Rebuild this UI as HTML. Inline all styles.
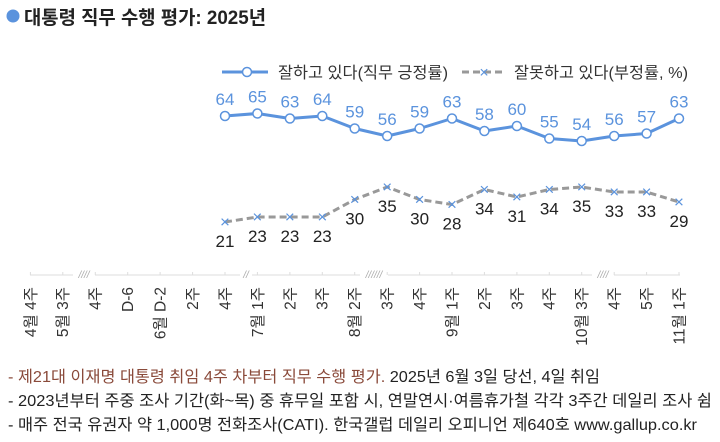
<!DOCTYPE html>
<html><head><meta charset="utf-8"><style>
html,body{margin:0;padding:0;background:#fff;}
svg{display:block;font-family:"Liberation Sans","Noto Sans CJK KR",sans-serif;}
</style></head><body>
<svg width="720" height="442" viewBox="0 0 720 442" xmlns="http://www.w3.org/2000/svg">
<circle cx="13" cy="16" r="6.5" fill="#5b93dd"/>
<text x="24" y="24" font-size="19" font-weight="bold" fill="#222" textLength="242" lengthAdjust="spacingAndGlyphs">대통령 직무 수행 평가: 2025년</text>

<!-- legend -->
<line x1="222" y1="72" x2="268" y2="72" stroke="#5b93dd" stroke-width="3"/>
<circle cx="247" cy="72" r="4.5" fill="#fff" stroke="#5b93dd" stroke-width="1.5"/>
<text x="278" y="78" font-size="16" fill="#333" textLength="170" lengthAdjust="spacingAndGlyphs">잘하고 있다(직무 긍정률)</text>
<line x1="462" y1="72" x2="505" y2="72" stroke="#999" stroke-width="3" stroke-dasharray="7,4"/>
<text x="484" y="77.5" font-size="16" fill="#5b93dd" text-anchor="middle">×</text>
<text x="514" y="78" font-size="16" fill="#333" textLength="174" lengthAdjust="spacingAndGlyphs">잘못하고 있다(부정률, %)</text>

<!-- positive -->
<polyline fill="none" stroke="#5b93dd" stroke-width="3" stroke-linejoin="round" points="225,116 257.4,113.5 289.9,118.5 322.3,116 354.7,128.5 387.2,136 419.6,128.5 452,118.5 484.4,131 516.9,126 549.3,138.5 581.7,141 614.2,136 646.6,133.5 679,118.5"/>
<g fill="#fff" stroke="#5b93dd" stroke-width="1.5">
<circle cx="225" cy="116" r="4.5"/><circle cx="257.4" cy="113.5" r="4.5"/><circle cx="289.9" cy="118.5" r="4.5"/><circle cx="322.3" cy="116" r="4.5"/><circle cx="354.7" cy="128.5" r="4.5"/><circle cx="387.2" cy="136" r="4.5"/><circle cx="419.6" cy="128.5" r="4.5"/><circle cx="452" cy="118.5" r="4.5"/><circle cx="484.4" cy="131" r="4.5"/><circle cx="516.9" cy="126" r="4.5"/><circle cx="549.3" cy="138.5" r="4.5"/><circle cx="581.7" cy="141" r="4.5"/><circle cx="614.2" cy="136" r="4.5"/><circle cx="646.6" cy="133.5" r="4.5"/><circle cx="679" cy="118.5" r="4.5"/>
</g>
<g font-size="17" fill="#5b93dd" text-anchor="middle">
<text x="225" y="105">64</text><text x="257.4" y="102.5">65</text><text x="289.9" y="107.5">63</text><text x="322.3" y="105">64</text><text x="354.7" y="117.5">59</text><text x="387.2" y="125">56</text><text x="419.6" y="117.5">59</text><text x="452" y="107.5">63</text><text x="484.4" y="120">58</text><text x="516.9" y="115">60</text><text x="549.3" y="127.5">55</text><text x="581.7" y="130">54</text><text x="614.2" y="125">56</text><text x="646.6" y="122.5">57</text><text x="679" y="107.5">63</text>
</g>

<!-- negative -->
<polyline fill="none" stroke="#999" stroke-width="3" stroke-dasharray="7,4" points="225,222 257.4,217 289.9,217 322.3,217 354.7,199.5 387.2,187 419.6,199.5 452,204.5 484.4,189.5 516.9,197 549.3,189.5 581.7,187 614.2,192 646.6,192 679,202"/>
<g font-size="17" fill="#5b93dd" text-anchor="middle">
<text x="225" y="227.5">×</text><text x="257.4" y="222.5">×</text><text x="289.9" y="222.5">×</text><text x="322.3" y="222.5">×</text><text x="354.7" y="205">×</text><text x="387.2" y="192.5">×</text><text x="419.6" y="205">×</text><text x="452" y="210">×</text><text x="484.4" y="195">×</text><text x="516.9" y="202.5">×</text><text x="549.3" y="195">×</text><text x="581.7" y="192.5">×</text><text x="614.2" y="197.5">×</text><text x="646.6" y="197.5">×</text><text x="679" y="207.5">×</text>
</g>
<g font-size="17" fill="#222" text-anchor="middle">
<text x="225" y="247">21</text><text x="257.4" y="242">23</text><text x="289.9" y="242">23</text><text x="322.3" y="242">23</text><text x="354.7" y="224.5">30</text><text x="387.2" y="212">35</text><text x="419.6" y="224.5">30</text><text x="452" y="229.5">28</text><text x="484.4" y="214.5">34</text><text x="516.9" y="222">31</text><text x="549.3" y="214.5">34</text><text x="581.7" y="212">35</text><text x="614.2" y="217">33</text><text x="646.6" y="217">33</text><text x="679" y="227">29</text>
</g>

<!-- axis -->
<g stroke="#ddd" stroke-width="1">
<line x1="30" y1="275" x2="73" y2="275"/><line x1="95" y1="275" x2="240" y2="275"/><line x1="252" y1="275" x2="360" y2="275"/><line x1="388" y1="275" x2="592" y2="275"/><line x1="614" y1="275" x2="680" y2="275"/>
<line x1="30.4" y1="272" x2="30.4" y2="275"/><line x1="62.8" y1="272" x2="62.8" y2="275"/><line x1="95.3" y1="272" x2="95.3" y2="275"/><line x1="127.7" y1="272" x2="127.7" y2="275"/><line x1="160.1" y1="272" x2="160.1" y2="275"/><line x1="192.6" y1="272" x2="192.6" y2="275"/><line x1="225" y1="272" x2="225" y2="275"/><line x1="257.4" y1="272" x2="257.4" y2="275"/><line x1="289.9" y1="272" x2="289.9" y2="275"/><line x1="322.3" y1="272" x2="322.3" y2="275"/><line x1="354.7" y1="272" x2="354.7" y2="275"/><line x1="387.2" y1="272" x2="387.2" y2="275"/><line x1="419.6" y1="272" x2="419.6" y2="275"/><line x1="452" y1="272" x2="452" y2="275"/><line x1="484.4" y1="272" x2="484.4" y2="275"/><line x1="516.9" y1="272" x2="516.9" y2="275"/><line x1="549.3" y1="272" x2="549.3" y2="275"/><line x1="581.7" y1="272" x2="581.7" y2="275"/><line x1="614.2" y1="272" x2="614.2" y2="275"/><line x1="646.6" y1="272" x2="646.6" y2="275"/><line x1="679" y1="272" x2="679" y2="275"/>
</g>
<g font-size="10" fill="#aaa" font-style="italic" text-anchor="middle">
<text x="84" y="278">////</text><text x="246" y="278">//</text><text x="374" y="278">//////</text><text x="603" y="278">////</text>
</g>
<g font-size="15.5" fill="#333" text-anchor="end">
<text transform="translate(30.4,287) rotate(-90)" dy="0.35em">4월 4주</text>
<text transform="translate(62.8,287) rotate(-90)" dy="0.35em">5월 3주</text>
<text transform="translate(95.3,287) rotate(-90)" dy="0.35em">4주</text>
<text transform="translate(127.7,287) rotate(-90)" dy="0.35em">D-6</text>
<text transform="translate(160.1,287) rotate(-90)" dy="0.35em">6월 D-2</text>
<text transform="translate(192.6,287) rotate(-90)" dy="0.35em">2주</text>
<text transform="translate(225,287) rotate(-90)" dy="0.35em">4주</text>
<text transform="translate(257.4,287) rotate(-90)" dy="0.35em">7월 1주</text>
<text transform="translate(289.9,287) rotate(-90)" dy="0.35em">2주</text>
<text transform="translate(322.3,287) rotate(-90)" dy="0.35em">3주</text>
<text transform="translate(354.7,287) rotate(-90)" dy="0.35em">8월 2주</text>
<text transform="translate(387.2,287) rotate(-90)" dy="0.35em">3주</text>
<text transform="translate(419.6,287) rotate(-90)" dy="0.35em">4주</text>
<text transform="translate(452,287) rotate(-90)" dy="0.35em">9월 1주</text>
<text transform="translate(484.4,287) rotate(-90)" dy="0.35em">2주</text>
<text transform="translate(516.9,287) rotate(-90)" dy="0.35em">3주</text>
<text transform="translate(549.3,287) rotate(-90)" dy="0.35em">4주</text>
<text transform="translate(581.7,287) rotate(-90)" dy="0.35em">10월 3주</text>
<text transform="translate(614.2,287) rotate(-90)" dy="0.35em">4주</text>
<text transform="translate(646.6,287) rotate(-90)" dy="0.35em">5주</text>
<text transform="translate(679,287) rotate(-90)" dy="0.35em">11월 1주</text>
</g>

<!-- notes -->
<g font-size="16" fill="#222">
<text x="8" y="382" textLength="592" lengthAdjust="spacingAndGlyphs"><tspan fill="#8a4a3a">- 제21대 이재명 대통령 취임 4주 차부터 직무 수행 평가.</tspan> 2025년 6월 3일 당선, 4일 취임</text>
<text x="8" y="406" textLength="704" lengthAdjust="spacingAndGlyphs">- 2023년부터 주중 조사 기간(화~목) 중 휴무일 포함 시, 연말연시·여름휴가철 각각 3주간 데일리 조사 쉼</text>
<text x="8" y="430" textLength="689" lengthAdjust="spacingAndGlyphs">- 매주 전국 유권자 약 1,000명 전화조사(CATI). 한국갤럽 데일리 오피니언 제640호 www.gallup.co.kr</text>
</g>
</svg>
</body></html>
